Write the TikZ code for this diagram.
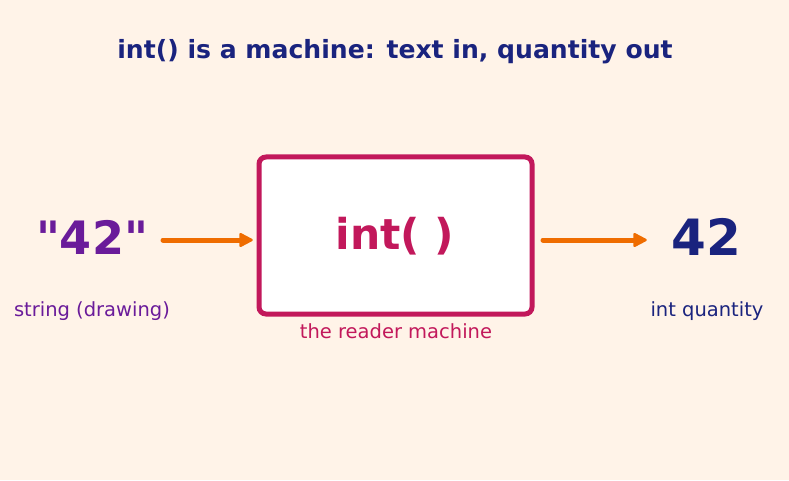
\documentclass[tikz,border=0pt]{standalone}
\usepackage{fontspec}
\setmainfont{DejaVu Sans}[Ligatures=TeXOff]
\definecolor{bgc}{HTML}{FFF3E8}
\definecolor{navy}{HTML}{1A237E}
\definecolor{crim}{HTML}{C2185B}
\definecolor{purp}{HTML}{6A1B9A}
\definecolor{orng}{HTML}{EF6C00}
\tikzset{
  flowline/.style={draw=orng, line width=5pt, line cap=round},
  flowhead/.style={draw=orng, fill=orng, line width=2.5pt, line join=round},
  lbl/.style={font=\fontsize{19.5}{22}\selectfont, inner sep=0pt},
}
\begin{document}
\begin{tikzpicture}[x=1pt,y=1pt]
\fill[bgc] (0,0) rectangle (789,480);
\useasboundingbox (0,0) rectangle (789,480);
\node[text=navy, font=\bfseries\fontsize{25.1}{29}\selectfont] (title) at (395,428) {int() is a machine: text in, quantity out};
\node[draw=crim, fill=white, line width=5pt, rounded corners=7pt, minimum width=273pt, minimum height=157pt, inner sep=0pt] (box) at (395.5,244.5) {};
\node[text=crim, font=\bfseries\fontsize{42.5}{48}\selectfont] (fn) at (395,244) {int( )};
\node[text=purp, font=\bfseries\fontsize{46}{52}\selectfont, inner sep=0pt] (in) at (92,243) {"42"};
\node[text=navy, font=\bfseries\fontsize{50}{56}\selectfont, inner sep=0pt] (out) at (706,243) {42};
\node[lbl, text=purp] (inl) at (92,169) {string (drawing)};
\node[lbl, text=crim] (boxl) at (396,149) {the reader machine};
\node[lbl, text=navy] (outl) at (707,169) {int quantity};
\coordinate (a1) at (163,240);
\coordinate (a2) at (251.5,240);
\coordinate (b1) at (543,240);
\coordinate (b2) at (645.5,240);
\draw[flowline] (a1) -- ([xshift=-8pt]a2);
\filldraw[flowhead] (a2) -- ++(-11,5.8) -- ++(0,-11.6) -- cycle;
\draw[flowline] (b1) -- ([xshift=-8pt]b2);
\filldraw[flowhead] (b2) -- ++(-11,5.8) -- ++(0,-11.6) -- cycle;
\end{tikzpicture}
\end{document}
